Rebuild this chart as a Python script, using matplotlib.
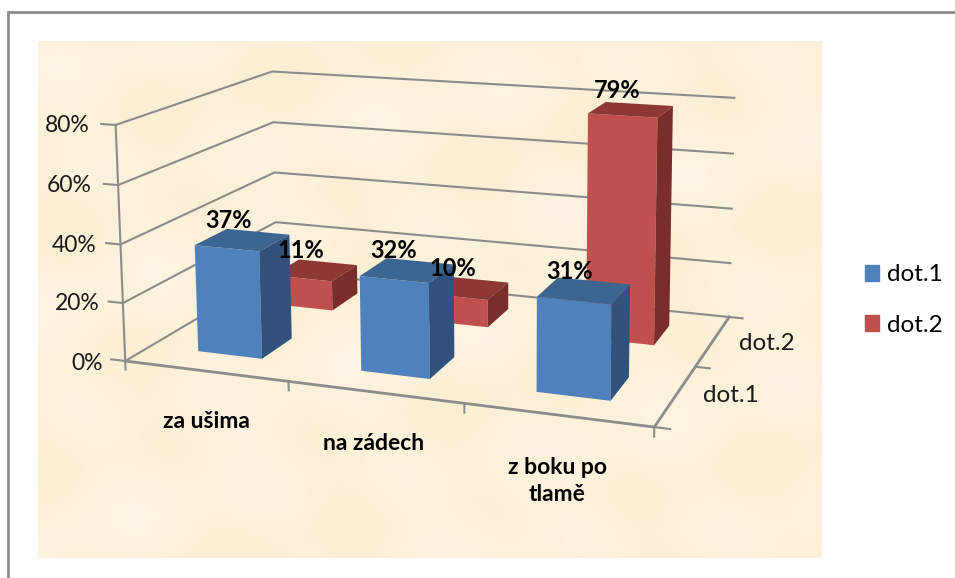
import matplotlib
matplotlib.use('Agg')
import matplotlib.pyplot as plt
from matplotlib.patches import Patch
from mpl_toolkits.mplot3d import Axes3D
import numpy as np

plt.rcParams['font.family'] = ['Lato', 'DejaVu Sans']

categories = ['za ušima', 'na zádech', 'z boku po\ntlamě']
series = ['dot.1', 'dot.2']
dot1 = [37, 32, 31]
dot2 = [11, 10, 79]
ticks = [0, 20, 40, 60, 80]

W, H = 955, 578
fig = plt.figure(figsize=(W/100, H/100), dpi=100, facecolor='white')

# page background, frame and flat text, in picture pixels
bg = fig.add_axes([0, 0, 1, 1], zorder=0)
yy, xx = np.mgrid[0:517:4, 0:783:4]
mottle = (np.sin(xx/61.0+yy/37.0)+np.sin(xx/23.0-yy/47.0+1.3)+np.sin(yy/19.0+xx/97.0+0.4))/3
paper = np.dstack([np.full(xx.shape, 252.0)+mottle, 241+2.5*mottle, 218+7*mottle]).clip(0, 255)/255
bg.imshow(paper, extent=(38, 821, 558, 41), interpolation='bicubic', aspect='auto', zorder=1)
bg.plot([8, 8, W], [H, 12, 12], color='#8c8c8c', lw=2, solid_joinstyle='miter', zorder=2)
bg.set_xlim(0, W)
bg.set_ylim(H, 0)
bg.axis('off')

# corners of the chart box: x category, y depth, z percent, and where they sit in the picture
corners = np.array([[0, 0, 0], [3, 0, 0], [3, 2, 0], [0, 2, 0], [0, 0, 80], [0, 2, 80], [3, 2, 80], [0, 2, 20], [3, 2, 20]], float)
pixels = np.array([[127, 362], [653, 427], [730, 317], [276, 270], [115, 124], [273, 72], [734, 98], [275, 223], [731, 263]], float)


def fit_camera(pts, pix):
    rows = []
    for (x, y, z), (u, v) in zip(pts, pix):
        x, y, z = x/3, y/2, z/80
        u, v = u/W, v/H
        rows.append([x, y, z, 1, 0, 0, 0, 0, -u*x, -u*y, -u*z, -u])
        rows.append([0, 0, 0, 0, x, y, z, 1, -v*x, -v*y, -v*z, -v])
    c = np.linalg.svd(np.array(rows))[2][-1].reshape(3, 4)
    c = np.diag([W, H, 1.0]) @ c @ np.diag([1/3, 1/2, 1/80, 1.0])
    return -c if c[2, 3] < 0 else c


cam = fit_camera(corners, pixels)


def to_pixels(x, y, z):
    p = cam @ np.array([x, y, z, 1.0])
    return p[0]/p[2], p[1]/p[2]


ax = fig.add_axes([0, -0.33, 1, 1.66], projection='3d', computed_zorder=False, zorder=1)
ax.set_axis_off()
ax.patch.set_alpha(0)


def fixed_proj():
    flip = np.array([[1, 0, 0], [0, -1, H], [0, 0, 1]], float)
    q = ax.transData.inverted().get_matrix() @ flip @ cam
    return np.vstack([q[0], q[1], [0, -1, 0, 0], q[2]])


ax.get_proj = fixed_proj

# overlay for text that must sit over the bars
top = fig.add_axes([0, 0, 1, 1], zorder=2)
top.set_xlim(0, W)
top.set_ylim(H, 0)
top.axis('off')

line = dict(color='#8c8c8c', lw=1.5, zorder=1)
for t in ticks:
    ax.plot([0, 0, 3], [0, 2, 2], [t, t, t], **line)
ax.plot([0, 0], [0, 0], [0, ticks[-1]], **line)
ax.plot([0, 3, 3], [0, 0, 2], [0, 0, 0], color='#8c8c8c', lw=2, zorder=1)
for t in ticks:
    ax.plot([-0.09, 0], [0, 0], [t, t], **line)
for i in range(0, 4):
    ax.plot([i, i], [0, 0], [0, -3], **line)
for d in [0, 1, 2]:
    ax.plot([3, 3.08], [d, d], [0, 0], **line)

faces_blue = ['#00000000', '#3d6591', '#4f81bd', '#00000000', '#00000000', '#30527c']
faces_red = ['#00000000', '#8e3836', '#c0504d', '#00000000', '#00000000', '#7a2e2c']
bar_x = 0.4
bar_y = 0.4
x_start = 0.3
for vals, depth, faces, order in [(dot2, 1, faces_red, 3), (dot1, 0, faces_blue, 4)]:
    for i, v in enumerate(vals):
        b = ax.bar3d(i+x_start, depth+0.3, 0, bar_x, bar_y, v, color=faces, shade=False, zsort='average',
                     edgecolor='none', linewidth=0)
        b.set_zorder(order)
        px, py = to_pixels(i+x_start+bar_x/2, depth+0.5, v)
        top.text(px-14, py-8, f'{v}%', fontsize=17, fontweight='bold', color='black', ha='center', va='bottom')

tick_px = [(103, 363), (100, 304), (96, 245), (92, 186), (90, 125)]
for t, (px, py) in zip(ticks, tick_px):
    bg.text(px, py, f'{t}%', fontsize=16.5, ha='right', va='center', color='#1a1a1a', zorder=3)

label_px = [(206, 421), (374, 443), (557, 481)]
for name, (px, py) in zip(categories, label_px):
    bg.text(px, py, name, fontsize=16.5, fontweight='bold', ha='center', va='center', linespacing=1.4,
            color='black', zorder=3)

bg.text(767, 343, series[1], fontsize=17.5, ha='center', va='center', color='#1a1a1a', zorder=3)
bg.text(731, 396, series[0], fontsize=17.5, ha='center', va='center', color='#1a1a1a', zorder=3)

handles = [Patch(color='#4f81bd', label=series[0]), Patch(color='#c0504d', label=series[1])]
fig.legend(handles=handles, loc='center left', bbox_to_anchor=(843/W, 1-300/H), frameon=False, fontsize=17.5,
           handlelength=0.6, handleheight=0.62, handletextpad=0.3, labelspacing=1.2)

fig.savefig('out.png', dpi=100)
